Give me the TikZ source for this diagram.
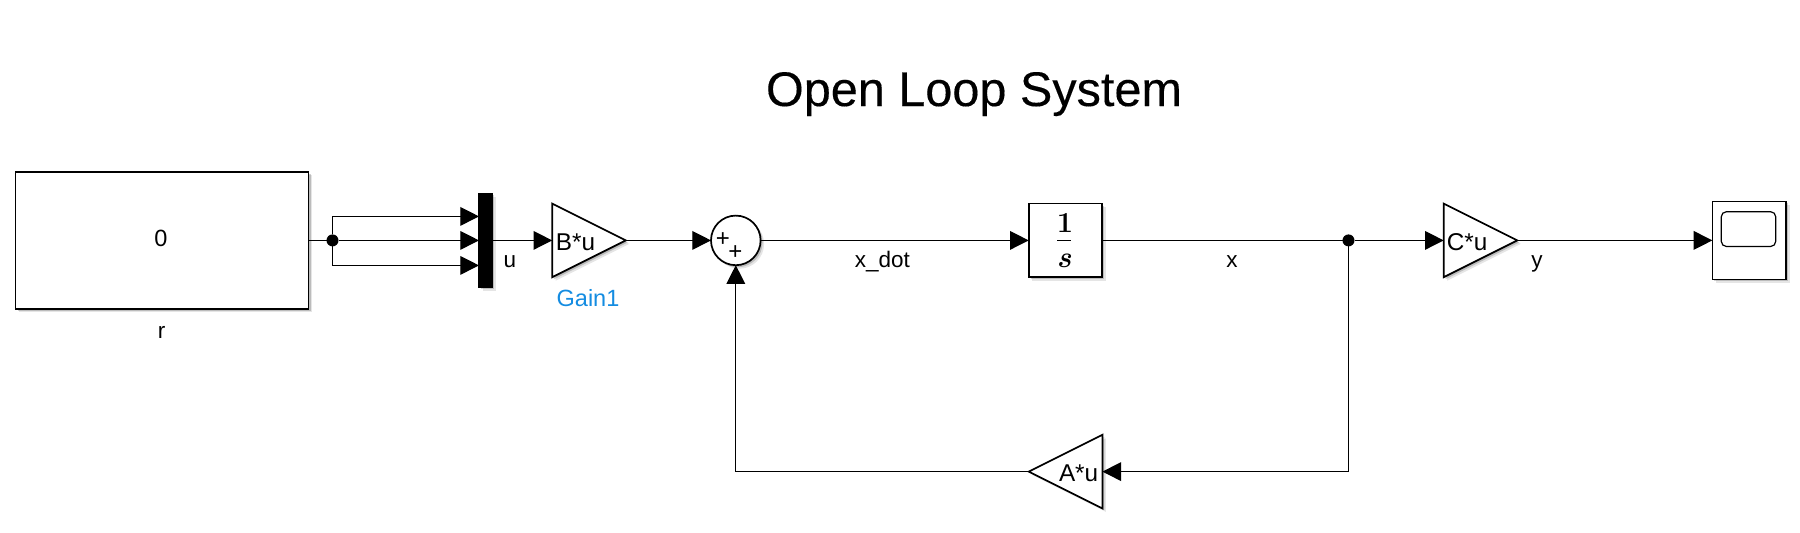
\documentclass[tikz,border=0pt]{standalone}
\usepackage{fontspec}
\setsansfont{Liberation Sans}
\newfontfamily\heavysans[FakeBold=0.25]{Liberation Sans}
\usetikzlibrary{arrows.meta,calc}
\definecolor{gainblue}{RGB}{20,140,225}
\tikzset{
  shadowed/.style={
    preaction={draw=none,fill=black,fill opacity=.10,transform canvas={xshift=3.5pt,yshift=-3.5pt}},
    preaction={draw=none,fill=black,fill opacity=.18,transform canvas={xshift=2pt,yshift=-2pt}},
    draw=black,fill=white,line width=1.7pt,line join=miter},
  blockbox/.style={shadowed,rectangle,inner sep=0pt,outer sep=0pt},
  trifoot/.style={rectangle,inner sep=0pt,outer sep=0pt,minimum width=73.6pt,minimum height=73.6pt},
  wire/.style={line width=1.2pt,draw=black},
  arr/.style={wire,-{Triangle[length=18.7pt,width=18.7pt]}},
  jdot/.style={circle,fill=black,inner sep=0pt,outer sep=0pt,minimum size=12pt},
  lbl/.style={anchor=base,inner sep=0pt,font=\sffamily\fontsize{22.5pt}{26pt}\selectfont},
  blocktext/.style={anchor=base,inner sep=0pt,font=\sffamily\fontsize{24.3pt}{26pt}\selectfont},
}
\begin{document}
\begin{tikzpicture}[x=1pt,y=-1pt]
\useasboundingbox (0,0) rectangle (1800,533);
% title
\node[anchor=base,inner sep=0pt,font=\heavysans\fontsize{48.6pt}{54pt}\selectfont] (title) at (974,106) {Open Loop System};
% blocks
\node[blockbox,minimum width=293pt,minimum height=137pt] (r) at (162,240.4) {};
\node[blockbox,fill=black,minimum width=13.4pt,minimum height=94pt] (mux) at (485.7,240.4) {};
\node[trifoot] (bu) at (589,240.4) {};
\draw[shadowed] (bu.north west) -- (bu.east) -- (bu.south west) -- cycle;
\node[blockbox,circle,minimum size=49.6pt] (sum) at (735.8,240.4) {};
\node[blockbox,minimum width=73.6pt,minimum height=73.6pt] (int) at (1065.5,240.4) {};
\node[trifoot] (cu) at (1480.5,240.4) {};
\draw[shadowed] (cu.north west) -- (cu.east) -- (cu.south west) -- cycle;
\node[blockbox,minimum width=73.7pt,minimum height=78pt] (scope) at (1749.2,240.4) {};
\node[draw=black,line width=1.2pt,rounded corners=5pt,inner sep=0pt,minimum width=54.4pt,minimum height=34.7pt] (screen) at (1748.5,229.1) {};
\node[trifoot] (au) at (1065.6,471.6) {};
\draw[shadowed] (au.north east) -- (au.west) -- (au.south east) -- cycle;
% junctions
\node[jdot] (j1) at (332.5,240.4) {};
\node[jdot] (j2) at (1348.5,240.4) {};
% mux inputs
\coordinate (m1) at ($(mux.west)+(0,-24)$);
\coordinate (m2) at (mux.west);
\coordinate (m3) at ($(mux.west)+(0,25)$);
% connectors
\draw[wire] (r.east) -- (j1);
\draw[arr] (j1) |- (m1);
\draw[arr] (j1) -- (m2);
\draw[arr] (j1) |- (m3);
\draw[arr] (mux.east) -- (bu.west);
\draw[arr] (bu.east) -- (sum.west);
\draw[arr] (sum.east) -- (int.west);
\draw[wire] (int.east) -- (j2);
\draw[arr] (j2) -- (cu.west);
\draw[arr] (cu.east) -- (scope.west);
\draw[arr] (j2) |- (au.east);
\draw[arr] (au.west) -| (sum.south);
% block texts
\node[lbl,font=\sffamily\fontsize{23.5pt}{26pt}\selectfont] (t0) at (161,246.5) {0};
\node[lbl] (tr) at (161.5,338.5) {r};
\node[lbl] (tu) at (510,267) {u};
\node[blocktext] (tbu) at (575.5,250) {B*u};
\node[lbl,text=gainblue,font=\sffamily\fontsize{23.5pt}{26pt}\selectfont] (tgain) at (588,306.7) {Gain1};
\node[inner sep=0pt,font=\sffamily\fontsize{24pt}{24pt}\selectfont] (p1) at (723,240) {+};
\node[inner sep=0pt,font=\sffamily\fontsize{24pt}{24pt}\selectfont] (p2) at (735.3,252.5) {+};
\node[lbl] (txd) at (882.3,267) {x\_dot};
\node[anchor=base,inner sep=0pt,font=\rmfamily\bfseries\fontsize{29pt}{32pt}\selectfont] (one) at (1065,232) {1};
\node[fill=black,inner sep=0pt,minimum width=14.3pt,minimum height=1.5pt] (bar) at (1064,240.4) {};
\node[anchor=base,inner sep=0pt,font=\rmfamily\bfseries\itshape\fontsize{30pt}{32pt}\selectfont] (ess) at (1064,267) {s};
\node[lbl] (tx) at (1232,267) {x};
\node[blocktext] (tcu) at (1467,250) {C*u};
\node[lbl] (ty) at (1537,267) {y};
\node[blocktext] (tau) at (1078.6,481) {A*u};
\end{tikzpicture}
\end{document}
